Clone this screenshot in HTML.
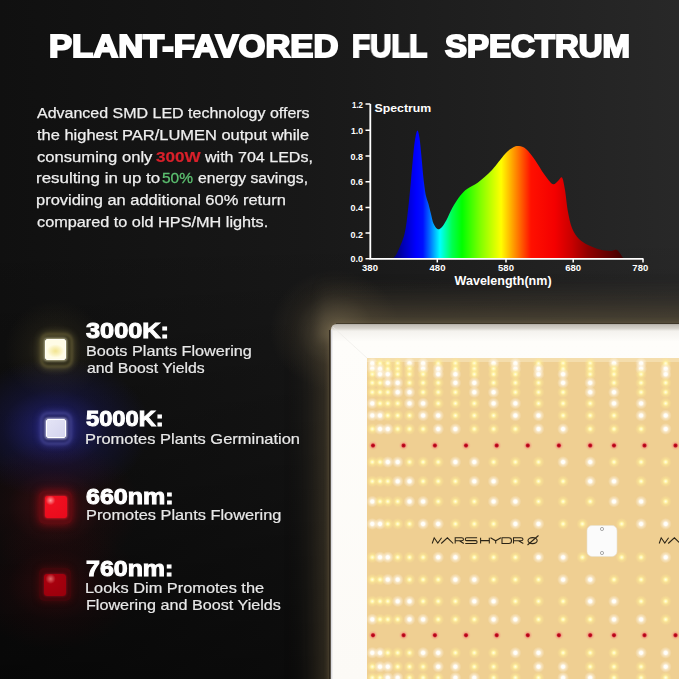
<!DOCTYPE html>
<html><head><meta charset="utf-8">
<style>
html,body{margin:0;padding:0;}
body{width:679px;height:679px;overflow:hidden;background:#111;position:relative;font-family:"Liberation Sans",sans-serif;}
.bg{position:absolute;left:0;top:0;width:679px;height:679px;
background:linear-gradient(180deg,rgba(0,0,0,0) 0%,rgba(0,0,0,0) 35%,rgba(0,0,0,0.55) 100%),linear-gradient(90deg,#101010 0%,#181818 45%,#282828 100%);}
.glow,.led{position:absolute;}
.t{position:absolute;white-space:nowrap;transform-origin:0 0;line-height:1;will-change:transform;}
.title{font-weight:bold;color:#fff;-webkit-text-stroke:2px #fff;text-shadow:0 0 2px rgba(0,0,0,0.9);}
.p{color:#efefef;-webkit-text-stroke:0.25px #efefef;}
.h{font-weight:bold;color:#fff;-webkit-text-stroke:1px #fff;}
.s{color:#e8e8e8;-webkit-text-stroke:0.2px #e8e8e8;}
.red{color:#d8202a;font-weight:bold;-webkit-text-stroke:0.2px #d8202a}
.grn{color:#5cc070;-webkit-text-stroke:0.3px #5cc070}
</style></head><body>
<div class="bg"></div>
<div class="glow" style="left:331px;top:324px;width:420px;height:420px;border-radius:8px;background:#6a5c40;box-shadow:0 0 5px 2px rgba(110,96,70,0.7),0 0 32px 8px rgba(95,82,56,0.7)"></div>
<div class="glow" style="left:320px;top:280px;width:380px;height:60px;background:linear-gradient(180deg,rgba(80,72,56,0) 0%,rgba(80,72,56,0.3) 50%,rgba(95,86,66,0.65) 100%);filter:blur(5px)"></div>
<div class="glow" style="left:270px;top:270px;width:130px;height:120px;background:radial-gradient(closest-side,rgba(130,115,85,0.5),rgba(90,78,55,0.2) 60%,rgba(0,0,0,0) 100%)"></div>
<div class="glow" style="left:5px;top:300px;width:100px;height:100px;background:radial-gradient(closest-side,rgba(120,110,60,0.4),rgba(80,70,40,0.15) 55%,rgba(0,0,0,0) 100%)"></div>
<div class="glow" style="left:-40px;top:358px;width:190px;height:140px;background:radial-gradient(closest-side,rgba(50,50,200,0.55),rgba(30,30,130,0.25) 55%,rgba(0,0,0,0) 100%)"></div>
<div class="glow" style="left:-30px;top:440px;width:170px;height:135px;background:radial-gradient(closest-side,rgba(150,20,30,0.35),rgba(80,10,15,0.15) 55%,rgba(0,0,0,0) 100%)"></div>
<div class="glow" style="left:-30px;top:520px;width:170px;height:130px;background:radial-gradient(closest-side,rgba(110,10,15,0.35),rgba(60,5,10,0.15) 55%,rgba(0,0,0,0) 100%)"></div>
<div class="led" style="left:39.5px;top:333px;width:27px;height:29px;border-radius:8px;border:3px solid rgba(140,130,80,0.4);background:rgba(50,46,22,0.6);box-shadow:0 0 7px rgba(160,150,80,0.4);filter:blur(1.2px)"></div>
<div class="led" style="left:45px;top:338.5px;width:21px;height:21px;border-radius:2px;background:radial-gradient(ellipse 45% 35% at 50% 58%,#f2e490,#faf2c0 60%,#fffce6 100%);border:1.5px solid #fffef6;box-sizing:border-box;box-shadow:0 0 3px 1px rgba(250,245,200,0.7)"></div>
<div class="led" style="left:39.5px;top:411.5px;width:26px;height:27px;border-radius:8px;border:3px solid rgba(110,110,200,0.4);background:rgba(25,25,90,0.6);box-shadow:0 0 7px rgba(90,90,220,0.45);filter:blur(1.2px)"></div>
<div class="led" style="left:46px;top:418.5px;width:19.5px;height:19.5px;border-radius:2px;background:linear-gradient(135deg,#e4e4f6,#d4d4ee);border:1px solid #fff;box-sizing:border-box;box-shadow:0 0 3px 1px rgba(230,230,255,0.8)"></div>
<div class="led" style="left:39px;top:491px;width:33px;height:33px;border-radius:5px;background:rgba(150,10,20,0.45);box-shadow:0 0 8px rgba(200,10,20,0.6)"></div>
<div class="led" style="left:44.5px;top:496px;width:22px;height:22px;border-radius:2px;background:radial-gradient(circle at 25% 20%,#ff9a9a,#f01020 20%,#e80a1c);box-shadow:0 0 3px #ff2030"></div>
<div class="led" style="left:39px;top:568px;width:32px;height:33px;border-radius:5px;background:rgba(100,5,10,0.45);box-shadow:0 0 7px rgba(120,8,12,0.45)"></div>
<div class="led" style="left:44px;top:573.5px;width:21.5px;height:22px;border-radius:3px;background:radial-gradient(circle at 30% 22%,#e06a6a,#a8000e 22%,#98000c);box-shadow:0 0 3px #901020"></div>

<svg style="position:absolute;left:0;top:0" width="679" height="679" viewBox="0 0 679 679">
<defs>
<linearGradient id="sg" gradientUnits="userSpaceOnUse" x1="393" y1="0" x2="623" y2="0">
<stop offset="0" stop-color="#000070"/>
<stop offset="0.052" stop-color="#0000c0"/>
<stop offset="0.10" stop-color="#0000ff"/>
<stop offset="0.13" stop-color="#0010ff"/>
<stop offset="0.161" stop-color="#0070ff"/>
<stop offset="0.204" stop-color="#00ffff"/>
<stop offset="0.257" stop-color="#00ff50"/>
<stop offset="0.30" stop-color="#00ff00"/>
<stop offset="0.38" stop-color="#80ff00"/>
<stop offset="0.47" stop-color="#ffff00"/>
<stop offset="0.53" stop-color="#ff9000"/>
<stop offset="0.60" stop-color="#ff1000"/>
<stop offset="0.704" stop-color="#f40000"/>
<stop offset="0.778" stop-color="#c80000"/>
<stop offset="0.848" stop-color="#900000"/>
<stop offset="0.957" stop-color="#580000"/>
<stop offset="1" stop-color="#400000"/>
</linearGradient>
</defs>
<path d="M393.0,258.5 C393.7,257.5 395.4,256.6 397.3,252.5 C399.2,248.4 402.7,241.1 404.5,234.0 C406.3,226.9 406.9,219.0 408.0,210.0 C409.1,201.0 410.1,189.7 411.0,180.0 C411.9,170.3 412.8,159.2 413.5,152.0 C414.2,144.8 414.8,140.6 415.5,137.0 C416.2,133.4 416.8,130.3 417.5,130.5 C418.2,130.7 418.8,133.6 419.5,138.0 C420.2,142.4 420.8,149.5 421.5,157.0 C422.2,164.5 423.2,176.5 424.0,183.0 C424.8,189.5 425.2,192.5 426.0,196.0 C426.8,199.5 427.7,201.0 428.5,204.0 C429.3,207.0 430.2,210.8 431.0,214.0 C431.8,217.2 432.4,221.0 433.5,223.5 C434.6,226.0 436.2,228.3 437.5,229.0 C438.8,229.7 440.0,229.0 441.5,227.5 C443.0,226.0 444.7,223.3 446.5,220.0 C448.3,216.7 450.2,211.5 452.5,207.5 C454.8,203.5 457.6,199.1 460.0,196.0 C462.4,192.9 464.0,191.2 467.0,189.0 C470.0,186.8 473.8,185.7 478.0,182.5 C482.2,179.3 487.5,174.8 492.0,170.0 C496.5,165.2 501.5,157.8 505.0,154.0 C508.5,150.2 510.7,148.8 513.0,147.5 C515.3,146.2 516.8,145.8 519.0,146.0 C521.2,146.2 523.3,146.7 526.0,149.0 C528.7,151.3 532.0,155.8 535.0,160.0 C538.0,164.2 541.1,170.0 544.0,174.0 C546.9,178.0 550.2,182.8 552.5,184.0 C554.8,185.2 556.4,182.1 558.0,181.0 C559.6,179.9 560.8,176.0 562.0,177.5 C563.2,179.0 564.0,184.2 565.0,190.0 C566.0,195.8 566.8,205.7 568.0,212.0 C569.2,218.3 570.2,223.5 572.0,228.0 C573.8,232.5 576.3,236.2 579.0,239.0 C581.7,241.8 584.5,243.2 588.0,245.0 C591.5,246.8 596.3,248.5 600.0,249.5 C603.7,250.5 607.2,250.9 610.0,251.0 C612.8,251.1 614.8,248.8 617.0,250.0 C619.2,251.2 622.4,257.1 623.5,258.5 L623.5,259 L393,259 Z" fill="url(#sg)"/>
<g stroke="#fff" fill="none">
<path d="M370.3,104 V258.9 H643.5" stroke-width="1.8"/>
<path d="M365.5,104.1 H370.3 M365.5,130.3 H370.3 M365.5,156 H370.3 M365.5,181.7 H370.3 M365.5,207.4 H370.3 M365.5,233.1 H370.3 M365.5,258.8 H370.3" stroke-width="1.5"/>
<path d="M437.3,258.9 V262.5 M506,258.9 V262.5 M573.2,258.9 V262.5 M643,258.9 V262.5" stroke-width="1.5"/>
</g>
<g font-family="Liberation Sans" font-weight="bold" fill="#fff" font-size="9.5">
<text x="363" y="108.3" text-anchor="end" textLength="11" lengthAdjust="spacingAndGlyphs">1.2</text>
<text x="363" y="133.8" text-anchor="end" textLength="12" lengthAdjust="spacingAndGlyphs">1.0</text>
<text x="363" y="159.6" text-anchor="end" textLength="12.5" lengthAdjust="spacingAndGlyphs">0.8</text>
<text x="363" y="185.4" text-anchor="end" textLength="12.5" lengthAdjust="spacingAndGlyphs">0.6</text>
<text x="363" y="211.1" text-anchor="end" textLength="12.5" lengthAdjust="spacingAndGlyphs">0.4</text>
<text x="363" y="238.2" text-anchor="end" textLength="12.5" lengthAdjust="spacingAndGlyphs">0.2</text>
<text x="363" y="261.9" text-anchor="end" textLength="12.5" lengthAdjust="spacingAndGlyphs">0.0</text>
<text x="370" y="271.2" text-anchor="middle">380</text>
<text x="437.5" y="271.2" text-anchor="middle">480</text>
<text x="506" y="271.2" text-anchor="middle">580</text>
<text x="573.2" y="271.2" text-anchor="middle">680</text>
<text x="640.3" y="271.2" text-anchor="middle">780</text>
<text x="374.5" y="112.2" font-size="11.6" textLength="56.7" lengthAdjust="spacingAndGlyphs">Spectrum</text>
<text x="454.6" y="284.8" font-size="13" textLength="97" lengthAdjust="spacingAndGlyphs">Wavelength(nm)</text>
</g>
</svg>
<div class="t title" id="title" style="left:49.41px;top:31.08px;font-size:31.8px;transform:scaleX(1.0872)">PLANT-FAVORED</div>
<div class="t title" id="title2" style="left:352.47px;top:31.08px;font-size:31.8px;transform:scaleX(0.9275)">FULL</div>
<div class="t title" id="title3" style="left:444.90px;top:31.08px;font-size:31.8px;transform:scaleX(1.0371)">SPECTRUM</div>
<div class="t p" id="p1" style="left:37.00px;top:105.38px;font-size:15.5px;transform:scaleX(1.0318)">Advanced SMD LED technology offers</div>
<div class="t p" id="p2" style="left:37.00px;top:126.98px;font-size:15.5px;transform:scaleX(1.0613)">the highest PAR/LUMEN output while</div>
<div class="t p" id="p3" style="left:37.00px;top:148.88px;font-size:15.5px;transform:scaleX(1.0713)">consuming only</div>
<div class="t p red" id="p3b" style="left:156.20px;top:148.88px;font-size:15.5px;transform:scaleX(1.1050)">300W</div>
<div class="t p" id="p3c" style="left:204.80px;top:148.88px;font-size:15.5px;transform:scaleX(1.0350)">with 704 LEDs,</div>
<div class="t p" id="p4" style="left:35.91px;top:170.48px;font-size:15.5px;transform:scaleX(1.0912)">resulting in up to</div>
<div class="t p grn" id="p4b" style="left:162.30px;top:170.48px;font-size:15.5px;transform:scaleX(1.0000)">50%</div>
<div class="t p" id="p4c" style="left:197.80px;top:170.48px;font-size:15.5px;transform:scaleX(1.0139)">energy savings,</div>
<div class="t p" id="p5" style="left:35.94px;top:192.18px;font-size:15.5px;transform:scaleX(1.0624)">providing an additional 60% return</div>
<div class="t p" id="p6" style="left:37.00px;top:213.88px;font-size:15.5px;transform:scaleX(1.0486)">compared to old HPS/MH lights.</div>
<div class="t h" id="h1" style="left:85.80px;top:320.38px;font-size:22.0px;transform:scaleX(1.1507)">3000K:</div>
<div class="t s" id="s1a" style="left:85.50px;top:343.97px;font-size:14.8px;transform:scaleX(1.0960)">Boots Plants Flowering</div>
<div class="t s" id="s1b" style="left:86.60px;top:361.07px;font-size:14.8px;transform:scaleX(1.0673)">and Boost Yields</div>
<div class="t h" id="h2" style="left:85.80px;top:408.48px;font-size:22.0px;transform:scaleX(1.0775)">5000K:</div>
<div class="t s" id="s2a" style="left:85.49px;top:432.17px;font-size:14.8px;transform:scaleX(1.1125)">Promotes Plants Germination</div>
<div class="t h" id="h3" style="left:85.80px;top:485.88px;font-size:22.0px;transform:scaleX(1.1355)">660nm:</div>
<div class="t s" id="s3a" style="left:85.50px;top:508.47px;font-size:14.8px;transform:scaleX(1.1046)">Promotes Plants Flowering</div>
<div class="t h" id="h4" style="left:85.80px;top:557.78px;font-size:22.0px;transform:scaleX(1.1342)">760nm:</div>
<div class="t s" id="s4a" style="left:85.49px;top:580.97px;font-size:14.8px;transform:scaleX(1.1056)">Looks Dim Promotes the</div>
<div class="t s" id="s4b" style="left:85.51px;top:598.17px;font-size:14.8px;transform:scaleX(1.0921)">Flowering and Boost Yields</div>
<svg style="position:absolute;left:0;top:0" width="679" height="679" viewBox="0 0 679 679">
<defs>
<radialGradient id="dw"><stop offset="0" stop-color="#ffffff"/><stop offset="0.28" stop-color="#fffdf6"/><stop offset="0.5" stop-color="#fff8ea" stop-opacity="0.55"/><stop offset="1" stop-color="#fff4e0" stop-opacity="0"/></radialGradient>
<radialGradient id="dy"><stop offset="0" stop-color="#fffde8"/><stop offset="0.28" stop-color="#fff4a8"/><stop offset="0.5" stop-color="#ffee98" stop-opacity="0.5"/><stop offset="1" stop-color="#ffe890" stop-opacity="0"/></radialGradient>
<radialGradient id="dr"><stop offset="0" stop-color="#a00010"/><stop offset="0.3" stop-color="#c81024"/><stop offset="0.55" stop-color="#f08878" stop-opacity="0.45"/><stop offset="1" stop-color="#f8b090" stop-opacity="0"/></radialGradient>
<linearGradient id="fr" gradientUnits="userSpaceOnUse" x1="0" y1="324" x2="0" y2="679"><stop offset="0" stop-color="#bdb8b0"/><stop offset="0.012" stop-color="#d6d2cb"/><stop offset="0.02" stop-color="#f4f2ee"/><stop offset="0.05" stop-color="#fefdfa"/><stop offset="1" stop-color="#fcfaf6"/></linearGradient>
</defs>
<path d="M337,324 H679 V679 H331 V330 Q331,324 337,324 Z" fill="url(#fr)"/>
<path d="M329.8,330 V679" stroke="#221c14" stroke-width="1.2"/><path d="M331.6,330 V679" stroke="#dcdce0" stroke-width="1.6"/><path d="M336,323.6 H679" stroke="#2a241a" stroke-width="1" opacity="0.6"/>
<path d="M333,327 L367,358" stroke="#ebe9e6" stroke-width="0.6"/>
<rect x="367" y="358" width="312" height="321" fill="#efcf92"/>
<rect x="367" y="358" width="312" height="4" fill="#f6e2b8" opacity="0.7"/>
<circle cx="372.3" cy="363.3" r="6" fill="url(#dw)"/>
<circle cx="380.0" cy="363.3" r="6" fill="url(#dy)"/>
<circle cx="387.8" cy="363.3" r="6" fill="url(#dy)"/>
<circle cx="397.7" cy="363.3" r="6" fill="url(#dy)"/>
<circle cx="409.5" cy="363.3" r="6" fill="url(#dw)"/>
<circle cx="423.1" cy="363.3" r="6" fill="url(#dw)"/>
<circle cx="438.2" cy="363.3" r="6" fill="url(#dy)"/>
<circle cx="455.4" cy="363.3" r="6" fill="url(#dy)"/>
<circle cx="474.3" cy="363.3" r="6" fill="url(#dy)"/>
<circle cx="493.6" cy="363.3" r="6" fill="url(#dw)"/>
<circle cx="515.4" cy="363.3" r="6" fill="url(#dw)"/>
<circle cx="538.5" cy="363.3" r="6" fill="url(#dy)"/>
<circle cx="563.1" cy="363.3" r="6" fill="url(#dy)"/>
<circle cx="590.2" cy="363.3" r="6" fill="url(#dy)"/>
<circle cx="614.0" cy="363.3" r="6" fill="url(#dw)"/>
<circle cx="641.1" cy="363.3" r="6" fill="url(#dw)"/>
<circle cx="665.7" cy="363.3" r="6" fill="url(#dy)"/>
<circle cx="690.0" cy="363.3" r="6" fill="url(#dy)"/>
<circle cx="372.3" cy="368.8" r="6" fill="url(#dw)"/>
<circle cx="380.0" cy="368.8" r="6" fill="url(#dw)"/>
<circle cx="387.8" cy="368.8" r="6" fill="url(#dy)"/>
<circle cx="397.7" cy="368.8" r="6" fill="url(#dy)"/>
<circle cx="409.5" cy="368.8" r="6" fill="url(#dy)"/>
<circle cx="423.1" cy="368.8" r="6" fill="url(#dw)"/>
<circle cx="438.2" cy="368.8" r="6" fill="url(#dw)"/>
<circle cx="455.4" cy="368.8" r="6" fill="url(#dy)"/>
<circle cx="474.3" cy="368.8" r="6" fill="url(#dy)"/>
<circle cx="493.6" cy="368.8" r="6" fill="url(#dy)"/>
<circle cx="515.4" cy="368.8" r="6" fill="url(#dw)"/>
<circle cx="538.5" cy="368.8" r="6" fill="url(#dw)"/>
<circle cx="563.1" cy="368.8" r="6" fill="url(#dy)"/>
<circle cx="590.2" cy="368.8" r="6" fill="url(#dy)"/>
<circle cx="614.0" cy="368.8" r="6" fill="url(#dy)"/>
<circle cx="641.1" cy="368.8" r="6" fill="url(#dw)"/>
<circle cx="665.7" cy="368.8" r="6" fill="url(#dw)"/>
<circle cx="690.0" cy="368.8" r="6" fill="url(#dy)"/>
<circle cx="372.3" cy="374.2" r="6" fill="url(#dy)"/>
<circle cx="380.0" cy="374.2" r="6" fill="url(#dw)"/>
<circle cx="387.8" cy="374.2" r="6" fill="url(#dw)"/>
<circle cx="397.7" cy="374.2" r="6" fill="url(#dy)"/>
<circle cx="409.5" cy="374.2" r="6" fill="url(#dy)"/>
<circle cx="423.1" cy="374.2" r="6" fill="url(#dy)"/>
<circle cx="438.2" cy="374.2" r="6" fill="url(#dw)"/>
<circle cx="455.4" cy="374.2" r="6" fill="url(#dw)"/>
<circle cx="474.3" cy="374.2" r="6" fill="url(#dy)"/>
<circle cx="493.6" cy="374.2" r="6" fill="url(#dy)"/>
<circle cx="515.4" cy="374.2" r="6" fill="url(#dy)"/>
<circle cx="538.5" cy="374.2" r="6" fill="url(#dw)"/>
<circle cx="563.1" cy="374.2" r="6" fill="url(#dw)"/>
<circle cx="590.2" cy="374.2" r="6" fill="url(#dy)"/>
<circle cx="614.0" cy="374.2" r="6" fill="url(#dy)"/>
<circle cx="641.1" cy="374.2" r="6" fill="url(#dy)"/>
<circle cx="665.7" cy="374.2" r="6" fill="url(#dw)"/>
<circle cx="690.0" cy="374.2" r="6" fill="url(#dw)"/>
<circle cx="372.3" cy="382.8" r="6" fill="url(#dy)"/>
<circle cx="380.0" cy="382.8" r="6" fill="url(#dy)"/>
<circle cx="387.8" cy="382.8" r="6" fill="url(#dw)"/>
<circle cx="397.7" cy="382.8" r="6" fill="url(#dw)"/>
<circle cx="409.5" cy="382.8" r="6" fill="url(#dy)"/>
<circle cx="423.1" cy="382.8" r="6" fill="url(#dy)"/>
<circle cx="438.2" cy="382.8" r="6" fill="url(#dy)"/>
<circle cx="455.4" cy="382.8" r="6" fill="url(#dw)"/>
<circle cx="474.3" cy="382.8" r="6" fill="url(#dw)"/>
<circle cx="493.6" cy="382.8" r="6" fill="url(#dy)"/>
<circle cx="515.4" cy="382.8" r="6" fill="url(#dy)"/>
<circle cx="538.5" cy="382.8" r="6" fill="url(#dy)"/>
<circle cx="563.1" cy="382.8" r="6" fill="url(#dw)"/>
<circle cx="590.2" cy="382.8" r="6" fill="url(#dw)"/>
<circle cx="614.0" cy="382.8" r="6" fill="url(#dy)"/>
<circle cx="641.1" cy="382.8" r="6" fill="url(#dy)"/>
<circle cx="665.7" cy="382.8" r="6" fill="url(#dy)"/>
<circle cx="690.0" cy="382.8" r="6" fill="url(#dw)"/>
<circle cx="372.3" cy="392.2" r="6" fill="url(#dy)"/>
<circle cx="380.0" cy="392.2" r="6" fill="url(#dy)"/>
<circle cx="387.8" cy="392.2" r="6" fill="url(#dy)"/>
<circle cx="397.7" cy="392.2" r="6" fill="url(#dw)"/>
<circle cx="409.5" cy="392.2" r="6" fill="url(#dw)"/>
<circle cx="423.1" cy="392.2" r="6" fill="url(#dy)"/>
<circle cx="438.2" cy="392.2" r="6" fill="url(#dy)"/>
<circle cx="455.4" cy="392.2" r="6" fill="url(#dy)"/>
<circle cx="474.3" cy="392.2" r="6" fill="url(#dw)"/>
<circle cx="493.6" cy="392.2" r="6" fill="url(#dw)"/>
<circle cx="515.4" cy="392.2" r="6" fill="url(#dy)"/>
<circle cx="538.5" cy="392.2" r="6" fill="url(#dy)"/>
<circle cx="563.1" cy="392.2" r="6" fill="url(#dy)"/>
<circle cx="590.2" cy="392.2" r="6" fill="url(#dw)"/>
<circle cx="614.0" cy="392.2" r="6" fill="url(#dw)"/>
<circle cx="641.1" cy="392.2" r="6" fill="url(#dy)"/>
<circle cx="665.7" cy="392.2" r="6" fill="url(#dy)"/>
<circle cx="690.0" cy="392.2" r="6" fill="url(#dy)"/>
<circle cx="372.3" cy="403.4" r="6" fill="url(#dw)"/>
<circle cx="380.0" cy="403.4" r="6" fill="url(#dy)"/>
<circle cx="387.8" cy="403.4" r="6" fill="url(#dy)"/>
<circle cx="397.7" cy="403.4" r="6" fill="url(#dy)"/>
<circle cx="409.5" cy="403.4" r="6" fill="url(#dw)"/>
<circle cx="423.1" cy="403.4" r="6" fill="url(#dw)"/>
<circle cx="438.2" cy="403.4" r="6" fill="url(#dy)"/>
<circle cx="455.4" cy="403.4" r="6" fill="url(#dy)"/>
<circle cx="474.3" cy="403.4" r="6" fill="url(#dy)"/>
<circle cx="493.6" cy="403.4" r="6" fill="url(#dw)"/>
<circle cx="515.4" cy="403.4" r="6" fill="url(#dw)"/>
<circle cx="538.5" cy="403.4" r="6" fill="url(#dy)"/>
<circle cx="563.1" cy="403.4" r="6" fill="url(#dy)"/>
<circle cx="590.2" cy="403.4" r="6" fill="url(#dy)"/>
<circle cx="614.0" cy="403.4" r="6" fill="url(#dw)"/>
<circle cx="641.1" cy="403.4" r="6" fill="url(#dw)"/>
<circle cx="665.7" cy="403.4" r="6" fill="url(#dy)"/>
<circle cx="690.0" cy="403.4" r="6" fill="url(#dy)"/>
<circle cx="372.3" cy="415.5" r="6" fill="url(#dw)"/>
<circle cx="380.0" cy="415.5" r="6" fill="url(#dw)"/>
<circle cx="387.8" cy="415.5" r="6" fill="url(#dy)"/>
<circle cx="397.7" cy="415.5" r="6" fill="url(#dy)"/>
<circle cx="409.5" cy="415.5" r="6" fill="url(#dy)"/>
<circle cx="423.1" cy="415.5" r="6" fill="url(#dw)"/>
<circle cx="438.2" cy="415.5" r="6" fill="url(#dw)"/>
<circle cx="455.4" cy="415.5" r="6" fill="url(#dy)"/>
<circle cx="474.3" cy="415.5" r="6" fill="url(#dy)"/>
<circle cx="493.6" cy="415.5" r="6" fill="url(#dy)"/>
<circle cx="515.4" cy="415.5" r="6" fill="url(#dw)"/>
<circle cx="538.5" cy="415.5" r="6" fill="url(#dw)"/>
<circle cx="563.1" cy="415.5" r="6" fill="url(#dy)"/>
<circle cx="590.2" cy="415.5" r="6" fill="url(#dy)"/>
<circle cx="614.0" cy="415.5" r="6" fill="url(#dy)"/>
<circle cx="641.1" cy="415.5" r="6" fill="url(#dw)"/>
<circle cx="665.7" cy="415.5" r="6" fill="url(#dw)"/>
<circle cx="690.0" cy="415.5" r="6" fill="url(#dy)"/>
<circle cx="372.3" cy="429.0" r="6" fill="url(#dy)"/>
<circle cx="380.0" cy="429.0" r="6" fill="url(#dw)"/>
<circle cx="387.8" cy="429.0" r="6" fill="url(#dw)"/>
<circle cx="397.7" cy="429.0" r="6" fill="url(#dy)"/>
<circle cx="409.5" cy="429.0" r="6" fill="url(#dy)"/>
<circle cx="423.1" cy="429.0" r="6" fill="url(#dy)"/>
<circle cx="438.2" cy="429.0" r="6" fill="url(#dw)"/>
<circle cx="455.4" cy="429.0" r="6" fill="url(#dw)"/>
<circle cx="474.3" cy="429.0" r="6" fill="url(#dy)"/>
<circle cx="493.6" cy="429.0" r="6" fill="url(#dy)"/>
<circle cx="515.4" cy="429.0" r="6" fill="url(#dy)"/>
<circle cx="538.5" cy="429.0" r="6" fill="url(#dw)"/>
<circle cx="563.1" cy="429.0" r="6" fill="url(#dw)"/>
<circle cx="590.2" cy="429.0" r="6" fill="url(#dy)"/>
<circle cx="614.0" cy="429.0" r="6" fill="url(#dy)"/>
<circle cx="641.1" cy="429.0" r="6" fill="url(#dy)"/>
<circle cx="665.7" cy="429.0" r="6" fill="url(#dw)"/>
<circle cx="690.0" cy="429.0" r="6" fill="url(#dw)"/>
<circle cx="372.3" cy="462.0" r="6" fill="url(#dy)"/>
<circle cx="380.0" cy="462.0" r="6" fill="url(#dy)"/>
<circle cx="387.8" cy="462.0" r="6" fill="url(#dw)"/>
<circle cx="397.7" cy="462.0" r="6" fill="url(#dw)"/>
<circle cx="409.5" cy="462.0" r="6" fill="url(#dy)"/>
<circle cx="423.1" cy="462.0" r="6" fill="url(#dy)"/>
<circle cx="438.2" cy="462.0" r="6" fill="url(#dy)"/>
<circle cx="455.4" cy="462.0" r="6" fill="url(#dw)"/>
<circle cx="474.3" cy="462.0" r="6" fill="url(#dw)"/>
<circle cx="493.6" cy="462.0" r="6" fill="url(#dy)"/>
<circle cx="515.4" cy="462.0" r="6" fill="url(#dy)"/>
<circle cx="538.5" cy="462.0" r="6" fill="url(#dy)"/>
<circle cx="563.1" cy="462.0" r="6" fill="url(#dw)"/>
<circle cx="590.2" cy="462.0" r="6" fill="url(#dw)"/>
<circle cx="614.0" cy="462.0" r="6" fill="url(#dy)"/>
<circle cx="641.1" cy="462.0" r="6" fill="url(#dy)"/>
<circle cx="665.7" cy="462.0" r="6" fill="url(#dy)"/>
<circle cx="690.0" cy="462.0" r="6" fill="url(#dw)"/>
<circle cx="372.3" cy="481.3" r="6" fill="url(#dy)"/>
<circle cx="380.0" cy="481.3" r="6" fill="url(#dy)"/>
<circle cx="387.8" cy="481.3" r="6" fill="url(#dy)"/>
<circle cx="397.7" cy="481.3" r="6" fill="url(#dw)"/>
<circle cx="409.5" cy="481.3" r="6" fill="url(#dw)"/>
<circle cx="423.1" cy="481.3" r="6" fill="url(#dy)"/>
<circle cx="438.2" cy="481.3" r="6" fill="url(#dy)"/>
<circle cx="455.4" cy="481.3" r="6" fill="url(#dy)"/>
<circle cx="474.3" cy="481.3" r="6" fill="url(#dw)"/>
<circle cx="493.6" cy="481.3" r="6" fill="url(#dw)"/>
<circle cx="515.4" cy="481.3" r="6" fill="url(#dy)"/>
<circle cx="538.5" cy="481.3" r="6" fill="url(#dy)"/>
<circle cx="563.1" cy="481.3" r="6" fill="url(#dy)"/>
<circle cx="590.2" cy="481.3" r="6" fill="url(#dw)"/>
<circle cx="614.0" cy="481.3" r="6" fill="url(#dw)"/>
<circle cx="641.1" cy="481.3" r="6" fill="url(#dy)"/>
<circle cx="665.7" cy="481.3" r="6" fill="url(#dy)"/>
<circle cx="690.0" cy="481.3" r="6" fill="url(#dy)"/>
<circle cx="372.3" cy="501.5" r="6" fill="url(#dw)"/>
<circle cx="380.0" cy="501.5" r="6" fill="url(#dy)"/>
<circle cx="387.8" cy="501.5" r="6" fill="url(#dy)"/>
<circle cx="397.7" cy="501.5" r="6" fill="url(#dy)"/>
<circle cx="409.5" cy="501.5" r="6" fill="url(#dw)"/>
<circle cx="423.1" cy="501.5" r="6" fill="url(#dw)"/>
<circle cx="438.2" cy="501.5" r="6" fill="url(#dy)"/>
<circle cx="455.4" cy="501.5" r="6" fill="url(#dy)"/>
<circle cx="474.3" cy="501.5" r="6" fill="url(#dy)"/>
<circle cx="493.6" cy="501.5" r="6" fill="url(#dw)"/>
<circle cx="515.4" cy="501.5" r="6" fill="url(#dw)"/>
<circle cx="538.5" cy="501.5" r="6" fill="url(#dy)"/>
<circle cx="563.1" cy="501.5" r="6" fill="url(#dy)"/>
<circle cx="590.2" cy="501.5" r="6" fill="url(#dy)"/>
<circle cx="614.0" cy="501.5" r="6" fill="url(#dw)"/>
<circle cx="641.1" cy="501.5" r="6" fill="url(#dw)"/>
<circle cx="665.7" cy="501.5" r="6" fill="url(#dy)"/>
<circle cx="690.0" cy="501.5" r="6" fill="url(#dy)"/>
<circle cx="372.3" cy="523.9" r="6" fill="url(#dw)"/>
<circle cx="380.0" cy="523.9" r="6" fill="url(#dw)"/>
<circle cx="387.8" cy="523.9" r="6" fill="url(#dy)"/>
<circle cx="397.7" cy="523.9" r="6" fill="url(#dy)"/>
<circle cx="409.5" cy="523.9" r="6" fill="url(#dy)"/>
<circle cx="423.1" cy="523.9" r="6" fill="url(#dw)"/>
<circle cx="438.2" cy="523.9" r="6" fill="url(#dw)"/>
<circle cx="455.4" cy="523.9" r="6" fill="url(#dy)"/>
<circle cx="474.3" cy="523.9" r="6" fill="url(#dy)"/>
<circle cx="493.6" cy="523.9" r="6" fill="url(#dy)"/>
<circle cx="515.4" cy="523.9" r="6" fill="url(#dw)"/>
<circle cx="538.5" cy="523.9" r="6" fill="url(#dw)"/>
<circle cx="563.1" cy="523.9" r="6" fill="url(#dy)"/>
<circle cx="582.4" cy="523.9" r="6" fill="url(#dy)"/>
<circle cx="621.7" cy="523.9" r="6" fill="url(#dy)"/>
<circle cx="641.1" cy="523.9" r="6" fill="url(#dw)"/>
<circle cx="665.7" cy="523.9" r="6" fill="url(#dw)"/>
<circle cx="690.0" cy="523.9" r="6" fill="url(#dy)"/>
<circle cx="372.3" cy="557.3" r="6" fill="url(#dy)"/>
<circle cx="380.0" cy="557.3" r="6" fill="url(#dw)"/>
<circle cx="387.8" cy="557.3" r="6" fill="url(#dw)"/>
<circle cx="397.7" cy="557.3" r="6" fill="url(#dy)"/>
<circle cx="409.5" cy="557.3" r="6" fill="url(#dy)"/>
<circle cx="423.1" cy="557.3" r="6" fill="url(#dy)"/>
<circle cx="438.2" cy="557.3" r="6" fill="url(#dw)"/>
<circle cx="455.4" cy="557.3" r="6" fill="url(#dw)"/>
<circle cx="474.3" cy="557.3" r="6" fill="url(#dy)"/>
<circle cx="493.6" cy="557.3" r="6" fill="url(#dy)"/>
<circle cx="515.4" cy="557.3" r="6" fill="url(#dy)"/>
<circle cx="538.5" cy="557.3" r="6" fill="url(#dw)"/>
<circle cx="563.1" cy="557.3" r="6" fill="url(#dw)"/>
<circle cx="582.4" cy="557.3" r="6" fill="url(#dy)"/>
<circle cx="621.7" cy="557.3" r="6" fill="url(#dy)"/>
<circle cx="641.1" cy="557.3" r="6" fill="url(#dy)"/>
<circle cx="665.7" cy="557.3" r="6" fill="url(#dw)"/>
<circle cx="690.0" cy="557.3" r="6" fill="url(#dw)"/>
<circle cx="372.3" cy="579.6" r="6" fill="url(#dy)"/>
<circle cx="380.0" cy="579.6" r="6" fill="url(#dy)"/>
<circle cx="387.8" cy="579.6" r="6" fill="url(#dw)"/>
<circle cx="397.7" cy="579.6" r="6" fill="url(#dw)"/>
<circle cx="409.5" cy="579.6" r="6" fill="url(#dy)"/>
<circle cx="423.1" cy="579.6" r="6" fill="url(#dy)"/>
<circle cx="438.2" cy="579.6" r="6" fill="url(#dy)"/>
<circle cx="455.4" cy="579.6" r="6" fill="url(#dw)"/>
<circle cx="474.3" cy="579.6" r="6" fill="url(#dw)"/>
<circle cx="493.6" cy="579.6" r="6" fill="url(#dy)"/>
<circle cx="515.4" cy="579.6" r="6" fill="url(#dy)"/>
<circle cx="538.5" cy="579.6" r="6" fill="url(#dy)"/>
<circle cx="563.1" cy="579.6" r="6" fill="url(#dw)"/>
<circle cx="590.2" cy="579.6" r="6" fill="url(#dw)"/>
<circle cx="614.0" cy="579.6" r="6" fill="url(#dy)"/>
<circle cx="641.1" cy="579.6" r="6" fill="url(#dy)"/>
<circle cx="665.7" cy="579.6" r="6" fill="url(#dy)"/>
<circle cx="690.0" cy="579.6" r="6" fill="url(#dw)"/>
<circle cx="372.3" cy="601.3" r="6" fill="url(#dy)"/>
<circle cx="380.0" cy="601.3" r="6" fill="url(#dy)"/>
<circle cx="387.8" cy="601.3" r="6" fill="url(#dy)"/>
<circle cx="397.7" cy="601.3" r="6" fill="url(#dw)"/>
<circle cx="409.5" cy="601.3" r="6" fill="url(#dw)"/>
<circle cx="423.1" cy="601.3" r="6" fill="url(#dy)"/>
<circle cx="438.2" cy="601.3" r="6" fill="url(#dy)"/>
<circle cx="455.4" cy="601.3" r="6" fill="url(#dy)"/>
<circle cx="474.3" cy="601.3" r="6" fill="url(#dw)"/>
<circle cx="493.6" cy="601.3" r="6" fill="url(#dw)"/>
<circle cx="515.4" cy="601.3" r="6" fill="url(#dy)"/>
<circle cx="538.5" cy="601.3" r="6" fill="url(#dy)"/>
<circle cx="563.1" cy="601.3" r="6" fill="url(#dy)"/>
<circle cx="590.2" cy="601.3" r="6" fill="url(#dw)"/>
<circle cx="614.0" cy="601.3" r="6" fill="url(#dw)"/>
<circle cx="641.1" cy="601.3" r="6" fill="url(#dy)"/>
<circle cx="665.7" cy="601.3" r="6" fill="url(#dy)"/>
<circle cx="690.0" cy="601.3" r="6" fill="url(#dy)"/>
<circle cx="372.3" cy="619.4" r="6" fill="url(#dw)"/>
<circle cx="380.0" cy="619.4" r="6" fill="url(#dy)"/>
<circle cx="387.8" cy="619.4" r="6" fill="url(#dy)"/>
<circle cx="397.7" cy="619.4" r="6" fill="url(#dy)"/>
<circle cx="409.5" cy="619.4" r="6" fill="url(#dw)"/>
<circle cx="423.1" cy="619.4" r="6" fill="url(#dw)"/>
<circle cx="438.2" cy="619.4" r="6" fill="url(#dy)"/>
<circle cx="455.4" cy="619.4" r="6" fill="url(#dy)"/>
<circle cx="474.3" cy="619.4" r="6" fill="url(#dy)"/>
<circle cx="493.6" cy="619.4" r="6" fill="url(#dw)"/>
<circle cx="515.4" cy="619.4" r="6" fill="url(#dw)"/>
<circle cx="538.5" cy="619.4" r="6" fill="url(#dy)"/>
<circle cx="563.1" cy="619.4" r="6" fill="url(#dy)"/>
<circle cx="590.2" cy="619.4" r="6" fill="url(#dy)"/>
<circle cx="614.0" cy="619.4" r="6" fill="url(#dw)"/>
<circle cx="641.1" cy="619.4" r="6" fill="url(#dw)"/>
<circle cx="665.7" cy="619.4" r="6" fill="url(#dy)"/>
<circle cx="690.0" cy="619.4" r="6" fill="url(#dy)"/>
<circle cx="372.3" cy="652.8" r="6" fill="url(#dw)"/>
<circle cx="380.0" cy="652.8" r="6" fill="url(#dw)"/>
<circle cx="387.8" cy="652.8" r="6" fill="url(#dy)"/>
<circle cx="397.7" cy="652.8" r="6" fill="url(#dy)"/>
<circle cx="409.5" cy="652.8" r="6" fill="url(#dy)"/>
<circle cx="423.1" cy="652.8" r="6" fill="url(#dw)"/>
<circle cx="438.2" cy="652.8" r="6" fill="url(#dw)"/>
<circle cx="455.4" cy="652.8" r="6" fill="url(#dy)"/>
<circle cx="474.3" cy="652.8" r="6" fill="url(#dy)"/>
<circle cx="493.6" cy="652.8" r="6" fill="url(#dy)"/>
<circle cx="515.4" cy="652.8" r="6" fill="url(#dw)"/>
<circle cx="538.5" cy="652.8" r="6" fill="url(#dw)"/>
<circle cx="563.1" cy="652.8" r="6" fill="url(#dy)"/>
<circle cx="590.2" cy="652.8" r="6" fill="url(#dy)"/>
<circle cx="614.0" cy="652.8" r="6" fill="url(#dy)"/>
<circle cx="641.1" cy="652.8" r="6" fill="url(#dw)"/>
<circle cx="665.7" cy="652.8" r="6" fill="url(#dw)"/>
<circle cx="690.0" cy="652.8" r="6" fill="url(#dy)"/>
<circle cx="372.3" cy="666.7" r="6" fill="url(#dy)"/>
<circle cx="380.0" cy="666.7" r="6" fill="url(#dw)"/>
<circle cx="387.8" cy="666.7" r="6" fill="url(#dw)"/>
<circle cx="397.7" cy="666.7" r="6" fill="url(#dy)"/>
<circle cx="409.5" cy="666.7" r="6" fill="url(#dy)"/>
<circle cx="423.1" cy="666.7" r="6" fill="url(#dy)"/>
<circle cx="438.2" cy="666.7" r="6" fill="url(#dw)"/>
<circle cx="455.4" cy="666.7" r="6" fill="url(#dw)"/>
<circle cx="474.3" cy="666.7" r="6" fill="url(#dy)"/>
<circle cx="493.6" cy="666.7" r="6" fill="url(#dy)"/>
<circle cx="515.4" cy="666.7" r="6" fill="url(#dy)"/>
<circle cx="538.5" cy="666.7" r="6" fill="url(#dw)"/>
<circle cx="563.1" cy="666.7" r="6" fill="url(#dw)"/>
<circle cx="590.2" cy="666.7" r="6" fill="url(#dy)"/>
<circle cx="614.0" cy="666.7" r="6" fill="url(#dy)"/>
<circle cx="641.1" cy="666.7" r="6" fill="url(#dy)"/>
<circle cx="665.7" cy="666.7" r="6" fill="url(#dw)"/>
<circle cx="690.0" cy="666.7" r="6" fill="url(#dw)"/>
<circle cx="372.3" cy="677.8" r="6" fill="url(#dy)"/>
<circle cx="380.0" cy="677.8" r="6" fill="url(#dy)"/>
<circle cx="387.8" cy="677.8" r="6" fill="url(#dw)"/>
<circle cx="397.7" cy="677.8" r="6" fill="url(#dw)"/>
<circle cx="409.5" cy="677.8" r="6" fill="url(#dy)"/>
<circle cx="423.1" cy="677.8" r="6" fill="url(#dy)"/>
<circle cx="438.2" cy="677.8" r="6" fill="url(#dy)"/>
<circle cx="455.4" cy="677.8" r="6" fill="url(#dw)"/>
<circle cx="474.3" cy="677.8" r="6" fill="url(#dw)"/>
<circle cx="493.6" cy="677.8" r="6" fill="url(#dy)"/>
<circle cx="515.4" cy="677.8" r="6" fill="url(#dy)"/>
<circle cx="538.5" cy="677.8" r="6" fill="url(#dy)"/>
<circle cx="563.1" cy="677.8" r="6" fill="url(#dw)"/>
<circle cx="590.2" cy="677.8" r="6" fill="url(#dw)"/>
<circle cx="614.0" cy="677.8" r="6" fill="url(#dy)"/>
<circle cx="641.1" cy="677.8" r="6" fill="url(#dy)"/>
<circle cx="665.7" cy="677.8" r="6" fill="url(#dy)"/>
<circle cx="690.0" cy="677.8" r="6" fill="url(#dw)"/>
<circle cx="373.0" cy="445.5" r="5" fill="url(#dr)"/>
<circle cx="403.6" cy="445.5" r="5" fill="url(#dr)"/>
<circle cx="434.9" cy="445.5" r="5" fill="url(#dr)"/>
<circle cx="466.0" cy="445.5" r="5" fill="url(#dr)"/>
<circle cx="496.7" cy="445.5" r="5" fill="url(#dr)"/>
<circle cx="527.8" cy="445.5" r="5" fill="url(#dr)"/>
<circle cx="558.9" cy="445.5" r="5" fill="url(#dr)"/>
<circle cx="590.2" cy="445.5" r="5" fill="url(#dr)"/>
<circle cx="614.0" cy="445.5" r="5" fill="url(#dr)"/>
<circle cx="644.5" cy="445.5" r="5" fill="url(#dr)"/>
<circle cx="675.5" cy="445.5" r="5" fill="url(#dr)"/>
<circle cx="373.0" cy="635.2" r="5" fill="url(#dr)"/>
<circle cx="403.6" cy="635.2" r="5" fill="url(#dr)"/>
<circle cx="434.9" cy="635.2" r="5" fill="url(#dr)"/>
<circle cx="466.0" cy="635.2" r="5" fill="url(#dr)"/>
<circle cx="496.7" cy="635.2" r="5" fill="url(#dr)"/>
<circle cx="527.8" cy="635.2" r="5" fill="url(#dr)"/>
<circle cx="558.9" cy="635.2" r="5" fill="url(#dr)"/>
<circle cx="590.2" cy="635.2" r="5" fill="url(#dr)"/>
<circle cx="614.0" cy="635.2" r="5" fill="url(#dr)"/>
<circle cx="644.5" cy="635.2" r="5" fill="url(#dr)"/>
<circle cx="675.5" cy="635.2" r="5" fill="url(#dr)"/>
<rect x="587" y="525.5" width="30" height="31" rx="5" fill="#fbfbfb" stroke="#e8e0d0" stroke-width="0.6"/>
<circle cx="602" cy="529" r="1.6" fill="none" stroke="#888" stroke-width="0.7"/>
<circle cx="602" cy="553" r="1.6" fill="none" stroke="#888" stroke-width="0.7"/>
<g id="logo" fill="none" stroke="#2b2416" stroke-width="1.05" stroke-linejoin="miter">
<path d="M432.2,543.5 L434.2,537.8 L437.8,543 L441.6,537.8 M441.2,543.5 L447.4,537.8 L453.2,543.5"/>
<path d="M455.2,543.5 V537.8 H461.6 Q463.5,537.8 463.5,539.2 Q463.5,540.7 461.6,540.7 H455.2 M459.5,540.7 L463.8,543.5"/>
<path d="M477.1,537.8 H466.7 Q465.3,537.8 465.3,539.2 Q465.3,540.6 466.7,540.6 H475.7 Q477.1,540.6 477.1,542 Q477.1,543.5 475.7,543.5 H465.3"/>
<path d="M480.6,537.8 V543.5 M489.3,537.8 V543.5 M480.6,540.6 H489.3"/>
<path d="M490.5,537.8 L495.7,540.8 L500.9,537.8 M495.7,540.8 V543.5"/>
<path d="M502,537.8 V543.5 H508.8 Q511.5,543.5 511.5,540.7 Q511.5,537.8 508.8,537.8 Z"/>
<path d="M513.5,543.5 V537.8 H520.9 Q523,537.8 523,539.2 Q523,540.7 520.9,540.7 H513.5 M518.5,540.7 L523.3,543.5"/>
<ellipse cx="532.6" cy="540.6" rx="4.6" ry="3"/>
<path d="M527.5,545 L538.5,535.5"/>
</g>
<use href="#logo" x="227"/>
</svg>
</body></html>
